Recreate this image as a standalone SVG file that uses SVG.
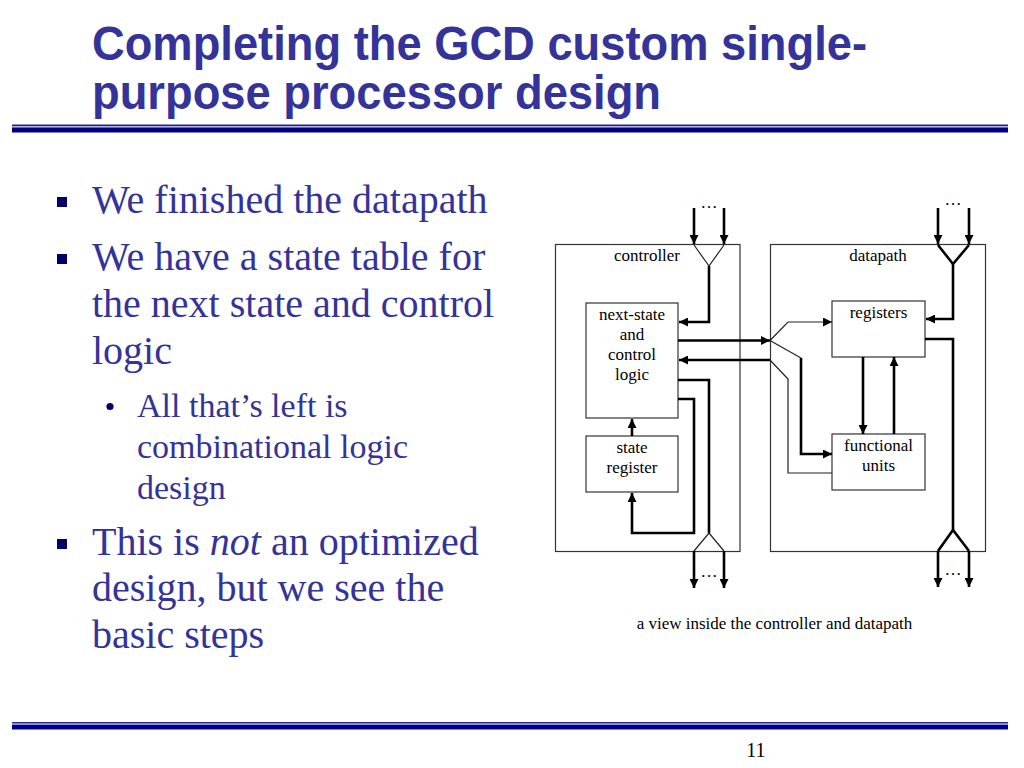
<svg xmlns="http://www.w3.org/2000/svg" width="1024" height="768" viewBox="0 0 1024 768">
  <style>
    .title { font-family: "Liberation Sans", Arial, sans-serif; font-weight: bold; font-size: 49px; fill: #333399; }
    .body { font-family: "Liberation Serif", "Times New Roman", serif; font-size: 40px; fill: #333399; }
    .sub { font-family: "Liberation Serif", "Times New Roman", serif; font-size: 34px; fill: #333399; }
    .lbl { font-family: "Liberation Serif", "Times New Roman", serif; font-size: 17px; fill: #000; text-anchor: middle; }
    .box { fill: #fff; stroke: #333; stroke-width: 1.2; }
    .thick { fill: none; stroke: #000; stroke-width: 2.6; }
    .thin { fill: none; stroke: #222; stroke-width: 1.2; }
    .arr { marker-end: url(#ah); }
  </style>
  <defs>
    <marker id="ah" markerUnits="userSpaceOnUse" markerWidth="10" markerHeight="9" refX="9" refY="4.5" orient="auto">
      <path d="M0,0 L9,4.5 L0,9 z" fill="#000"/>
    </marker>
  </defs>
  <rect width="1024" height="768" fill="#fff"/>

  <!-- title -->
  <g id="title">
    <text class="title" x="92" y="60" textLength="775" lengthAdjust="spacingAndGlyphs">Completing the GCD custom single-</text>
    <text class="title" x="92" y="109" textLength="569" lengthAdjust="spacingAndGlyphs">purpose processor design</text>
  </g>
  <g id="rules">
    <rect x="12" y="124.5" width="996" height="1.6" fill="#23238a"/>
    <rect x="12" y="126.1" width="996" height="1.4" fill="#a8a8d8"/>
    <rect x="12" y="127.5" width="996" height="5" fill="#000080"/>
    <rect x="12" y="722" width="996" height="1.6" fill="#2a2a88"/>
    <rect x="12" y="723.6" width="996" height="1.4" fill="#9090e0"/>
    <rect x="12" y="725" width="996" height="4.5" fill="#000088"/>
  </g>

  <!-- bullets -->
  <g id="bullets">
    <rect x="57" y="197" width="10" height="10" fill="#000066"/>
    <text class="body" x="92" y="213">We finished the datapath</text>
    <rect x="57" y="254" width="10" height="10" fill="#000066"/>
    <text class="body" x="92" y="270">We have a state table for</text>
    <text class="body" x="92" y="317">the next state and control</text>
    <text class="body" x="92" y="364">logic</text>
    <circle cx="110" cy="406.5" r="3.6" fill="#000066"/>
    <text class="sub" x="137" y="417">All that’s left is</text>
    <text class="sub" x="137" y="458">combinational logic</text>
    <text class="sub" x="137" y="499">design</text>
    <rect x="57" y="539" width="10" height="10" fill="#000066"/>
    <text class="body" x="92" y="555">This is <tspan font-style="italic">not</tspan> an optimized</text>
    <text class="body" x="92" y="601">design, but we see the</text>
    <text class="body" x="92" y="648">basic steps</text>
  </g>

  <!-- diagram nodes -->
  <g id="controller">
    <rect class="box" x="555.5" y="244.5" width="184.5" height="307"/>
    <text class="lbl" x="647" y="261">controller</text>
  </g>
  <g id="datapath">
    <rect class="box" x="770.5" y="244.5" width="215" height="307"/>
    <text class="lbl" x="878" y="261">datapath</text>
  </g>
  <g id="next-state">
    <rect class="box" x="586" y="303" width="92" height="115"/>
    <text class="lbl" x="632" y="320">next-state</text>
    <text class="lbl" x="632" y="340">and</text>
    <text class="lbl" x="632" y="360">control</text>
    <text class="lbl" x="632" y="380">logic</text>
  </g>
  <g id="state-register">
    <rect class="box" x="586" y="436" width="92" height="56"/>
    <text class="lbl" x="632" y="453">state</text>
    <text class="lbl" x="632" y="473">register</text>
  </g>
  <g id="registers">
    <rect class="box" x="832" y="301" width="93" height="56"/>
    <text class="lbl" x="878.5" y="318">registers</text>
  </g>
  <g id="functional-units">
    <rect class="box" x="832" y="434" width="93" height="56"/>
    <text class="lbl" x="878.5" y="451">functional</text>
    <text class="lbl" x="878.5" y="471">units</text>
  </g>

  <!-- connectors -->
  <g id="connectors">
    <path class="thick arr" d="M694,208 V244"/>
    <path class="thick arr" d="M724,208 V244"/>
    <path class="thin" d="M694,245 L709,266 L724,245"/>
    <path class="thick arr" d="M709,266 V322 H679"/>
    <path class="thick arr" d="M678,340.5 H770"/>
    <path class="thick arr" d="M770,360 H679"/>
    <path class="thick" d="M678,380 H709 V533"/>
    <path class="thin" d="M694,551 L709,533 L724,551"/>
    <path class="thick arr" d="M694,551 V588"/>
    <path class="thick arr" d="M724,551 V588"/>
    <path class="thick arr" d="M678,399 H694 V533 H632 V493"/>
    <path class="thick arr" d="M632,436 V419"/>
    <path class="thin arr" d="M770,340.5 L788,322 H832"/>
    <path class="thin" d="M770,340.5 L801,358"/>
    <path class="thick arr" d="M801,358 V454 H832"/>
    <path class="thin" d="M770,360 L788,379 V473 H832"/>
    <path class="thick arr" d="M938,208 V244"/>
    <path class="thick arr" d="M969,208 V244"/>
    <path class="thick" d="M938,245 L953,264 L969,245"/>
    <path class="thick arr" d="M953,264 V319 H926"/>
    <path class="thick" d="M925,339 H953 V530"/>
    <path class="thick" d="M938,551 L953,530 L969,551"/>
    <path class="thick arr" d="M938,551 V587"/>
    <path class="thick arr" d="M969,551 V587"/>
    <path class="thick arr" d="M863,357 V434"/>
    <path class="thick arr" d="M894,434 V357"/>
  </g>

  <g id="ellipses">
    <text class="lbl" x="709" y="208">…</text>
    <text class="lbl" x="709" y="577">…</text>
    <text class="lbl" x="953" y="205">…</text>
    <text class="lbl" x="953" y="575">…</text>
  </g>

  <text class="lbl" x="774.5" y="629">a view inside the controller and datapath</text>
  <text x="756" y="757" font-family="'Liberation Serif', 'Times New Roman', serif" font-size="20" fill="#000" text-anchor="middle">11</text>
</svg>
